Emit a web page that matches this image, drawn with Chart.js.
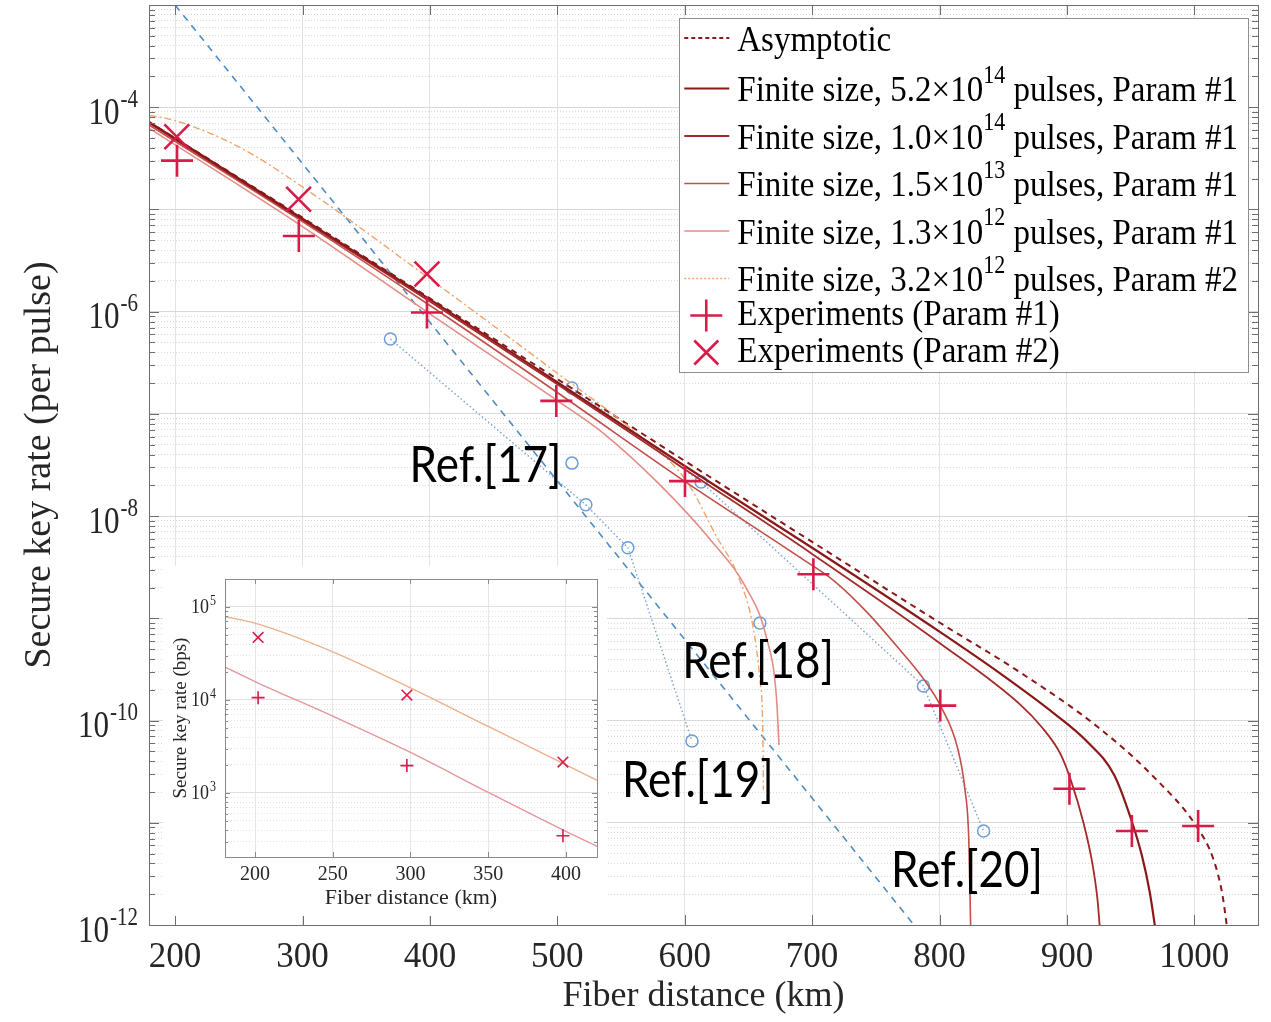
<!DOCTYPE html>
<html>
<head>
<meta charset="utf-8">
<title>Secure key rate vs fiber distance</title>
<script src="https://cdn.jsdelivr.net/npm/chart.js@4.4.1/dist/chart.umd.min.js"></script>
<style>
  html, body { margin:0; padding:0; background:#ffffff; }
  #wrap { position:relative; width:1271px; height:1022px; overflow:hidden; background:#fff; }
  #mainChart { position:absolute; left:0; top:0; }
  #insetChart { position:absolute; left:163px; top:566px; }
</style>
</head>
<body>
<div id="wrap">
  <canvas id="mainChart" width="1271" height="1022"></canvas>
  <canvas id="insetChart" width="444" height="350"></canvas>
</div>
<script>
// ================= DATA (main plot) =================
const xTickValues = [200, 300, 400, 500, 600, 700, 800, 900, 1000];
const yLabelExponents = [-4, -6, -8, -10, -12];

const asymKm  = [179, 300, 400, 500, 600, 700, 800, 864, 924, 968, 1002, 1015, 1022, 1026];
const asymVal = [7.24e-5, 8.3e-6, 1.35e-6, 2.19e-7, 3.47e-8, 5.6e-9, 9.1e-10, 2.92e-10, 8.7e-11, 2.82e-11, 9.1e-12, 4.4e-12, 2.0e-12, 8.9e-13];

const fs52Km  = [179, 300, 400, 500, 600, 700, 800, 850, 890, 916, 937, 950, 959, 965, 969.6];
const fs52Val = [7.24e-5, 8.1e-6, 1.32e-6, 2.04e-7, 3.09e-8, 4.9e-9, 7.4e-10, 2.75e-10, 1.17e-10, 6.2e-11, 2.95e-11, 1.12e-11, 4.7e-12, 2.1e-12, 8.9e-13];

const fs10Km  = [179, 300, 400, 500, 600, 700, 800, 864, 880, 895, 903, 913, 920, 924, 926];
const fs10Val = [7.08e-5, 7.9e-6, 1.26e-6, 1.95e-7, 2.88e-8, 4.27e-9, 5.75e-10, 1.41e-10, 8.7e-11, 4.7e-11, 2.63e-11, 1.0e-11, 4.0e-12, 1.78e-12, 8.9e-13];

const fs15Km  = [179, 300, 400, 500, 600, 691, 717, 743, 769, 788, 801, 814, 820, 823, 824.5];
const fs15Val = [6.76e-5, 7.6e-6, 1.15e-6, 1.62e-7, 2.19e-8, 3.9e-9, 2.34e-9, 1.15e-9, 4.9e-10, 2.5e-10, 1.38e-10, 5.5e-11, 2.1e-11, 6.8e-12, 8.9e-13];

const fs13Km  = [179, 300, 400, 500, 536, 581, 620, 649, 664, 672, 674];
const fs13Val = [6.3e-5, 6.8e-6, 9.5e-7, 1.35e-7, 6.5e-8, 2.0e-8, 5.9e-9, 1.91e-9, 6.6e-10, 1.7e-10, 5.75e-11];

const p2Km  = [180, 200, 250, 300, 400, 500, 560, 601, 625, 643, 654, 659, 661.3, 661.8];
const p2Val = [8.3e-5, 7.4e-5, 4.1e-5, 1.66e-5, 2.09e-6, 2.5e-7, 6.8e-8, 2.24e-8, 6.3e-9, 2.4e-9, 7.8e-10, 2.5e-10, 8.1e-11, 2.1e-11];

const exp1Km  = [201.5, 297.1, 397.7, 499.2, 600.2, 701, 800.6, 902, 951, 1003];
const exp1Val = [3.0e-5, 5.5e-6, 9.8e-7, 1.34e-7, 2.2e-8, 2.7e-9, 1.4e-10, 2.15e-11, 8.3e-12, 9.3e-12];

const exp2Km  = [201.3, 296.9, 397.7];
const exp2Val = [5.15e-5, 1.26e-5, 2.34e-6];

const ref17Km = [511.5];               const ref17Val = [3.3e-8];
const ref18Km = [659];                 const ref18Val = [9.0e-10];
const ref19Km = [369, 522.4, 555.4, 605.7];  const ref19Val = [5.4e-7, 1.29e-8, 4.9e-9, 6.3e-11];
const ref20Km = [511.5, 612.9, 787.4, 834.6]; const ref20Val = [1.79e-7, 2.16e-8, 2.18e-10, 8.3e-12];

const boundKm  = [200, 780];
const boundVal = [1e-3, 1e-12];

const refLabelText = ['Ref.[17]', 'Ref.[18]', 'Ref.[19]', 'Ref.[20]'];
const refLabelKm   = [384, 598, 550.7, 762];
const refLabelVal  = [3.1e-8, 3.8e-10, 2.6e-11, 3.4e-12];

// ================= DATA (inset) =================
const insetXTicks = [200, 250, 300, 350, 400];
const insetYLabelExponents = [3, 4, 5];
const insetKm = [180.7, 200, 250, 300, 350, 400, 420];
const insetP2Rate = [79000, 67000, 33000, 13500, 5200, 2010, 1370];
const insetP1Rate = [22600, 15800, 6700, 2730, 1015, 386, 267];
const insetExp1Km = [202, 297.7, 398.1];
const insetExp1Rate = [10600, 1970, 347];
const insetExp2Km = [202, 297.7, 398.1];
const insetExp2Rate = [47100, 11300, 2150];

// ================= STYLE =================
const SERIF = '"Liberation Serif", "Times New Roman", Times, serif';
const SANS = 'Lato, "Open Sans", "DejaVu Sans", sans-serif';
const RED = '#d81b48';
const BLUE_PT = '#6d9cd8';
const BLUE_LN = '#7ea6d8';
const AXIS = '#6e6e6e';

function pts(xs, ys) { return xs.map((x, i) => ({ x: x, y: ys[i] })); }

function logTicks(min, max, mults) {
  const out = [];
  const e0 = Math.floor(Math.log10(min)), e1 = Math.ceil(Math.log10(max));
  for (let e = e0; e <= e1; e++) {
    for (const m of mults) {
      const v = m * Math.pow(10, e);
      if (v >= min * 0.999999 && v <= max * 1.000001) out.push({ value: v });
    }
  }
  return out;
}

// text drawn with an optional vertical stretch (sy) around its own middle line
function stretchedText(ctx, text, x, y, sy) {
  ctx.save();
  ctx.translate(x, y);
  ctx.scale(1, sy);
  ctx.fillText(text, 0, 0);
  ctx.restore();
}

function drawRich(ctx, text, x, y, baseFont, supFont, rise, sy) {
  const parts = text.split(/\^\{([^}]*)\}/);
  let cx = x;
  parts.forEach((p, i) => {
    if (!p) return;
    if (i % 2 === 0) { ctx.font = baseFont; stretchedText(ctx, p, cx, y, sy); cx += ctx.measureText(p).width; }
    else { ctx.font = supFont; stretchedText(ctx, p, cx, y - rise, sy); cx += ctx.measureText(p).width; }
  });
  return cx - x;
}
function measureRich(ctx, text, baseFont, supFont) {
  const parts = text.split(/\^\{([^}]*)\}/);
  let w = 0;
  parts.forEach((p, i) => {
    if (!p) return;
    ctx.font = (i % 2 === 0) ? baseFont : supFont;
    w += ctx.measureText(p).width;
  });
  return w;
}

// ---------- plugins ----------
function framePlugin(id, xName, yName, yMinorName, majLen, minLen, color) {
  return {
    id: id,
    afterDatasetsDraw(chart) {
      const ctx = chart.ctx, a = chart.chartArea;
      const xs = chart.scales[xName], ys = chart.scales[yName], ym = chart.scales[yMinorName];
      ctx.save();
      ctx.strokeStyle = color; ctx.lineWidth = 1;
      ctx.beginPath();
      xs.ticks.forEach(t => {
        const px = Math.round(xs.getPixelForValue(t.value)) + 0.5;
        ctx.moveTo(px, a.bottom); ctx.lineTo(px, a.bottom - majLen);
        ctx.moveTo(px, a.top); ctx.lineTo(px, a.top + majLen);
      });
      ys.ticks.forEach(t => {
        const py = Math.round(ys.getPixelForValue(t.value)) + 0.5;
        ctx.moveTo(a.left, py); ctx.lineTo(a.left + majLen, py);
        ctx.moveTo(a.right, py); ctx.lineTo(a.right - majLen, py);
      });
      ym.ticks.forEach(t => {
        const py = Math.round(ym.getPixelForValue(t.value)) + 0.5;
        ctx.moveTo(a.left, py); ctx.lineTo(a.left + minLen, py);
        ctx.moveTo(a.right, py); ctx.lineTo(a.right - minLen, py);
      });
      ctx.stroke();
      ctx.strokeRect(Math.round(a.left) + 0.5, Math.round(a.top) + 0.5, Math.round(a.right - a.left), Math.round(a.bottom - a.top));
      ctx.restore();
    }
  };
}

function powerLabelPlugin(id, yName, exps, baseSize, supSize, rightEdge, baseDy, supDy, sy) {
  return {
    id: id,
    afterDraw(chart) {
      const ctx = chart.ctx, ys = chart.scales[yName];
      ctx.save();
      ctx.fillStyle = '#262626';
      ctx.textBaseline = 'middle';
      ctx.textAlign = 'left';
      exps.forEach(e => {
        const py = ys.getPixelForValue(Math.pow(10, e));
        const supText = String(e);
        ctx.font = supSize + 'px ' + SERIF;
        const sw = ctx.measureText(supText).width;
        ctx.font = baseSize + 'px ' + SERIF;
        const bw = ctx.measureText('10').width;
        const xSup = rightEdge - sw;
        const xBase = xSup - bw - 1;
        stretchedText(ctx, '10', xBase, py + baseDy, sy);
        ctx.font = supSize + 'px ' + SERIF;
        stretchedText(ctx, supText, xSup, py + supDy, sy);
      });
      ctx.restore();
    }
  };
}

const refLabelPlugin = {
  id: 'refLabels',
  afterDatasetsDraw(chart) {
    const ctx = chart.ctx, xs = chart.scales.x, ys = chart.scales.y;
    ctx.save();
    ctx.fillStyle = '#000';
    ctx.font = '44px ' + SANS;
    ctx.textAlign = 'left';
    ctx.textBaseline = 'middle';
    refLabelText.forEach((t, i) => {
      stretchedText(ctx, t, xs.getPixelForValue(refLabelKm[i]), ys.getPixelForValue(refLabelVal[i]), 1.15);
    });
    ctx.restore();
  }
};

const legendOrder = [7, 2, 3, 4, 5, 6, 0, 1];
const legendPlugin = {
  id: 'matlabLegend',
  afterDraw(chart) {
    const ctx = chart.ctx, a = chart.chartArea;
    const baseFont = '33px ' + SERIF, supFont = '22px ' + SERIF;
    const items = legendOrder.map(i => chart.data.datasets[i]);
    let maxW = 0;
    items.forEach(d => { maxW = Math.max(maxW, measureRich(ctx, d.label, baseFont, supFont)); });
    const right = a.right - 10, top = a.top + 13;
    const textX0 = 58;
    const left = right - (textX0 + maxW + 10);
    const hasSup = items.map(d => d.label.indexOf('^{') >= 0);
    const centers = [];
    let cy = top + 23;
    items.forEach((d, i) => {
      if (i > 0) cy += hasSup[i] ? 47.5 : 37;
      centers.push(cy);
    });
    const bottom = centers[centers.length - 1] + 19;
    ctx.save();
    ctx.fillStyle = '#ffffff';
    ctx.fillRect(left, top, right - left, bottom - top);
    ctx.strokeStyle = '#8f8f8f'; ctx.lineWidth = 1;
    ctx.strokeRect(Math.round(left) + 0.5, Math.round(top) + 0.5, Math.round(right - left), Math.round(bottom - top));
    items.forEach((d, i) => {
      const y = centers[i] + (hasSup[i] ? 3 : 0);
      const sx0 = left + 5, sx1 = left + 50, mx = left + 27;
      if (d.showLine === false) {
        ctx.strokeStyle = d.pointBorderColor; ctx.lineWidth = d.pointBorderWidth;
        ctx.beginPath();
        if (d.pointStyle === 'cross') {
          ctx.moveTo(mx - 16, y); ctx.lineTo(mx + 16, y);
          ctx.moveTo(mx, y - 16); ctx.lineTo(mx, y + 16);
        } else {
          const r = 12;
          ctx.moveTo(mx - r, y - r); ctx.lineTo(mx + r, y + r);
          ctx.moveTo(mx - r, y + r); ctx.lineTo(mx + r, y - r);
        }
        ctx.stroke();
      } else {
        ctx.strokeStyle = d.borderColor; ctx.lineWidth = d.borderWidth;
        ctx.setLineDash(d.legendDash || d.borderDash || []);
        ctx.beginPath(); ctx.moveTo(sx0, y - 3); ctx.lineTo(sx1, y - 3); ctx.stroke();
        ctx.setLineDash([]);
      }
      ctx.fillStyle = '#000';
      ctx.textBaseline = 'middle'; ctx.textAlign = 'left';
      drawRich(ctx, d.label, left + textX0, y, baseFont, supFont, 15, 1.1);
    });
    ctx.restore();
  }
};

// ================= MAIN CHART =================
new Chart(document.getElementById('mainChart'), {
  type: 'line',
  data: {
    datasets: [
      { label: 'Experiments (Param #1)', data: pts(exp1Km, exp1Val), showLine: false,
        pointStyle: 'cross', pointRadius: 16, pointBorderWidth: 2.6, pointBorderColor: RED, pointBackgroundColor: RED },
      { label: 'Experiments (Param #2)', data: pts(exp2Km, exp2Val), showLine: false,
        pointStyle: 'crossRot', pointRadius: 17.5, pointBorderWidth: 2.6, pointBorderColor: RED, pointBackgroundColor: RED },
      { label: 'Finite size, 5.2×10^{14} pulses, Param #1', data: pts(fs52Km, fs52Val),
        borderColor: '#8a1818', borderWidth: 2.2, pointRadius: 0, cubicInterpolationMode: 'monotone' },
      { label: 'Finite size, 1.0×10^{14} pulses, Param #1', data: pts(fs10Km, fs10Val),
        borderColor: '#a42a2a', borderWidth: 1.8, pointRadius: 0, cubicInterpolationMode: 'monotone' },
      { label: 'Finite size, 1.5×10^{13} pulses, Param #1', data: pts(fs15Km, fs15Val),
        borderColor: '#c24f4a', borderWidth: 1.6, pointRadius: 0, cubicInterpolationMode: 'monotone' },
      { label: 'Finite size, 1.3×10^{12} pulses, Param #1', data: pts(fs13Km, fs13Val),
        borderColor: '#e48c86', borderWidth: 1.6, pointRadius: 0, cubicInterpolationMode: 'monotone' },
      { label: 'Finite size, 3.2×10^{12} pulses, Param #2', data: pts(p2Km, p2Val),
        borderColor: '#f0a46e', borderWidth: 1.4, borderDash: [7, 3, 2, 3], legendDash: [2, 2], pointRadius: 0, cubicInterpolationMode: 'monotone' },
      { label: 'Asymptotic', data: pts(asymKm, asymVal),
        borderColor: '#8a1818', borderWidth: 2, borderDash: [6, 5], legendDash: [4, 3], pointRadius: 0, cubicInterpolationMode: 'monotone' },
      { label: 'Ref.[17]', data: pts(ref17Km, ref17Val), showLine: false,
        pointStyle: 'circle', pointRadius: 6, pointBorderWidth: 1.5, pointBorderColor: BLUE_PT, pointBackgroundColor: 'rgba(0,0,0,0)' },
      { label: 'Ref.[18]', data: pts(ref18Km, ref18Val), showLine: false,
        pointStyle: 'circle', pointRadius: 6, pointBorderWidth: 1.5, pointBorderColor: BLUE_PT, pointBackgroundColor: 'rgba(0,0,0,0)' },
      { label: 'Ref.[19]', data: pts(ref19Km, ref19Val), borderColor: BLUE_LN, borderWidth: 1.5, borderDash: [1.5, 2.5],
        pointStyle: 'circle', pointRadius: 6, pointBorderWidth: 1.5, pointBorderColor: BLUE_PT, pointBackgroundColor: 'rgba(0,0,0,0)' },
      { label: 'Ref.[20]', data: pts(ref20Km, ref20Val), borderColor: BLUE_LN, borderWidth: 1.5, borderDash: [1.5, 2.5],
        pointStyle: 'circle', pointRadius: 6, pointBorderWidth: 1.5, pointBorderColor: BLUE_PT, pointBackgroundColor: 'rgba(0,0,0,0)' },
      { label: 'Linear bound', data: pts(boundKm, boundVal), borderColor: '#4f8cc4', borderWidth: 1.6, borderDash: [7, 6], pointRadius: 0 }
    ]
  },
  options: {
    responsive: false, animation: false, devicePixelRatio: 1, events: [],
    layout: { autoPadding: false, padding: { top: 5, right: 13, bottom: 0, left: 0 } },
    plugins: { legend: { display: false }, tooltip: { enabled: false }, title: { display: false } },
    elements: { line: { tension: 0 }, point: { hoverRadius: 0 } },
    scales: {
      x: {
        type: 'linear', min: 179.5, max: 1050,
        afterBuildTicks: s => { s.ticks = xTickValues.map(v => ({ value: v })); },
        ticks: { color: '#262626', font: { family: SERIF, size: 35 }, padding: 12, maxRotation: 0, autoSkip: false, callback: v => String(v) },
        grid: { color: '#e3e3e3', lineWidth: 1, drawTicks: false },
        border: { display: false },
        title: { display: true, text: 'Fiber distance (km)', color: '#262626', font: { family: SERIF, size: 36 }, padding: { top: 0, bottom: 4 } },
        afterFit: s => { s.height = 97; }
      },
      y: {
        type: 'logarithmic', position: 'left', min: 1e-12, max: 1e-3,
        afterBuildTicks: s => { s.ticks = logTicks(1e-12, 1e-3, [1]); },
        ticks: { display: false, autoSkip: false },
        grid: { color: '#d8d8d8', lineWidth: 1, drawTicks: false },
        border: { display: false },
        title: { display: true, text: 'Secure key rate (per pulse)', color: '#262626', font: { family: SERIF, size: 38 }, padding: { top: 17, bottom: 0 } },
        afterFit: s => { s.width = 149; }
      },
      yMinor: {
        type: 'logarithmic', position: 'left', min: 1e-12, max: 1e-3,
        afterBuildTicks: s => { s.ticks = logTicks(1e-12, 1e-3, [2, 3, 4, 5, 6, 7, 8, 9]); },
        ticks: { display: false, autoSkip: false },
        grid: { color: '#d8d8d8', lineWidth: 1, drawTicks: false },
        border: { display: false, dash: [1, 2] },
        afterFit: s => { s.width = 0; }
      }
    }
  },
  plugins: [
    framePlugin('mainFrame', 'x', 'y', 'yMinor', 10, 6, AXIS),
    powerLabelPlugin('mainPow', 'y', yLabelExponents, 31, 21, 138, 7, -7, 1.2),
    refLabelPlugin,
    legendPlugin
  ]
});

// ================= INSET CHART =================
const insetBg = {
  id: 'insetBg',
  beforeDraw(chart) {
    const ctx = chart.ctx;
    ctx.save(); ctx.fillStyle = '#ffffff'; ctx.fillRect(0, 0, chart.width, chart.height); ctx.restore();
  }
};

new Chart(document.getElementById('insetChart'), {
  type: 'line',
  data: {
    datasets: [
      { label: 'Experiments (Param #1)', data: pts(insetExp1Km, insetExp1Rate), showLine: false,
        pointStyle: 'cross', pointRadius: 6.5, pointBorderWidth: 1.6, pointBorderColor: RED },
      { label: 'Experiments (Param #2)', data: pts(insetExp2Km, insetExp2Rate), showLine: false,
        pointStyle: 'crossRot', pointRadius: 7.5, pointBorderWidth: 1.6, pointBorderColor: RED },
      { label: 'Param #2', data: pts(insetKm, insetP2Rate), borderColor: '#efb08a', borderWidth: 1.4, pointRadius: 0, cubicInterpolationMode: 'monotone' },
      { label: 'Param #1', data: pts(insetKm, insetP1Rate), borderColor: '#e3979a', borderWidth: 1.4, pointRadius: 0, cubicInterpolationMode: 'monotone' }
    ]
  },
  options: {
    responsive: false, animation: false, devicePixelRatio: 1, events: [],
    layout: { autoPadding: false, padding: { top: 13, right: 10, bottom: 0, left: 0 } },
    plugins: { legend: { display: false }, tooltip: { enabled: false } },
    elements: { line: { tension: 0 }, point: { hoverRadius: 0 } },
    scales: {
      x: {
        type: 'linear', min: 180.7, max: 420,
        afterBuildTicks: s => { s.ticks = insetXTicks.map(v => ({ value: v })); },
        ticks: { color: '#262626', font: { family: SERIF, size: 20 }, padding: 6, maxRotation: 0, autoSkip: false, callback: v => String(v) },
        grid: { color: '#e6e6e6', lineWidth: 1, drawTicks: false },
        border: { display: false },
        title: { display: true, text: 'Fiber distance (km)', color: '#262626', font: { family: SERIF, size: 22 }, padding: { top: 0, bottom: 5 } },
        afterFit: s => { s.height = 59; }
      },
      y: {
        type: 'logarithmic', position: 'left', min: 205, max: 2e5,
        afterBuildTicks: s => { s.ticks = logTicks(205, 2e5, [1]); },
        ticks: { display: false, autoSkip: false },
        grid: { color: '#e0e0e0', lineWidth: 1, drawTicks: false },
        border: { display: false },
        title: { display: true, text: 'Secure key rate (bps)', color: '#262626', font: { family: SERIF, size: 19 }, padding: { top: 7, bottom: 0 } },
        afterFit: s => { s.width = 62; }
      },
      yMinor: {
        type: 'logarithmic', position: 'left', min: 205, max: 2e5,
        afterBuildTicks: s => { s.ticks = logTicks(205, 2e5, [2, 3, 4, 5, 6, 7, 8, 9]); },
        ticks: { display: false, autoSkip: false },
        grid: { color: '#e3e3e3', lineWidth: 1, drawTicks: false },
        border: { display: false, dash: [1, 2] },
        afterFit: s => { s.width = 0; }
      }
    }
  },
  plugins: [
    insetBg,
    framePlugin('insetFrame', 'x', 'y', 'yMinor', 5, 3, '#8a8a8a'),
    powerLabelPlugin('insetPow', 'y', insetYLabelExponents, 18, 12, 53, 1, -6, 1.15)
  ]
});
</script>
</body>
</html>
